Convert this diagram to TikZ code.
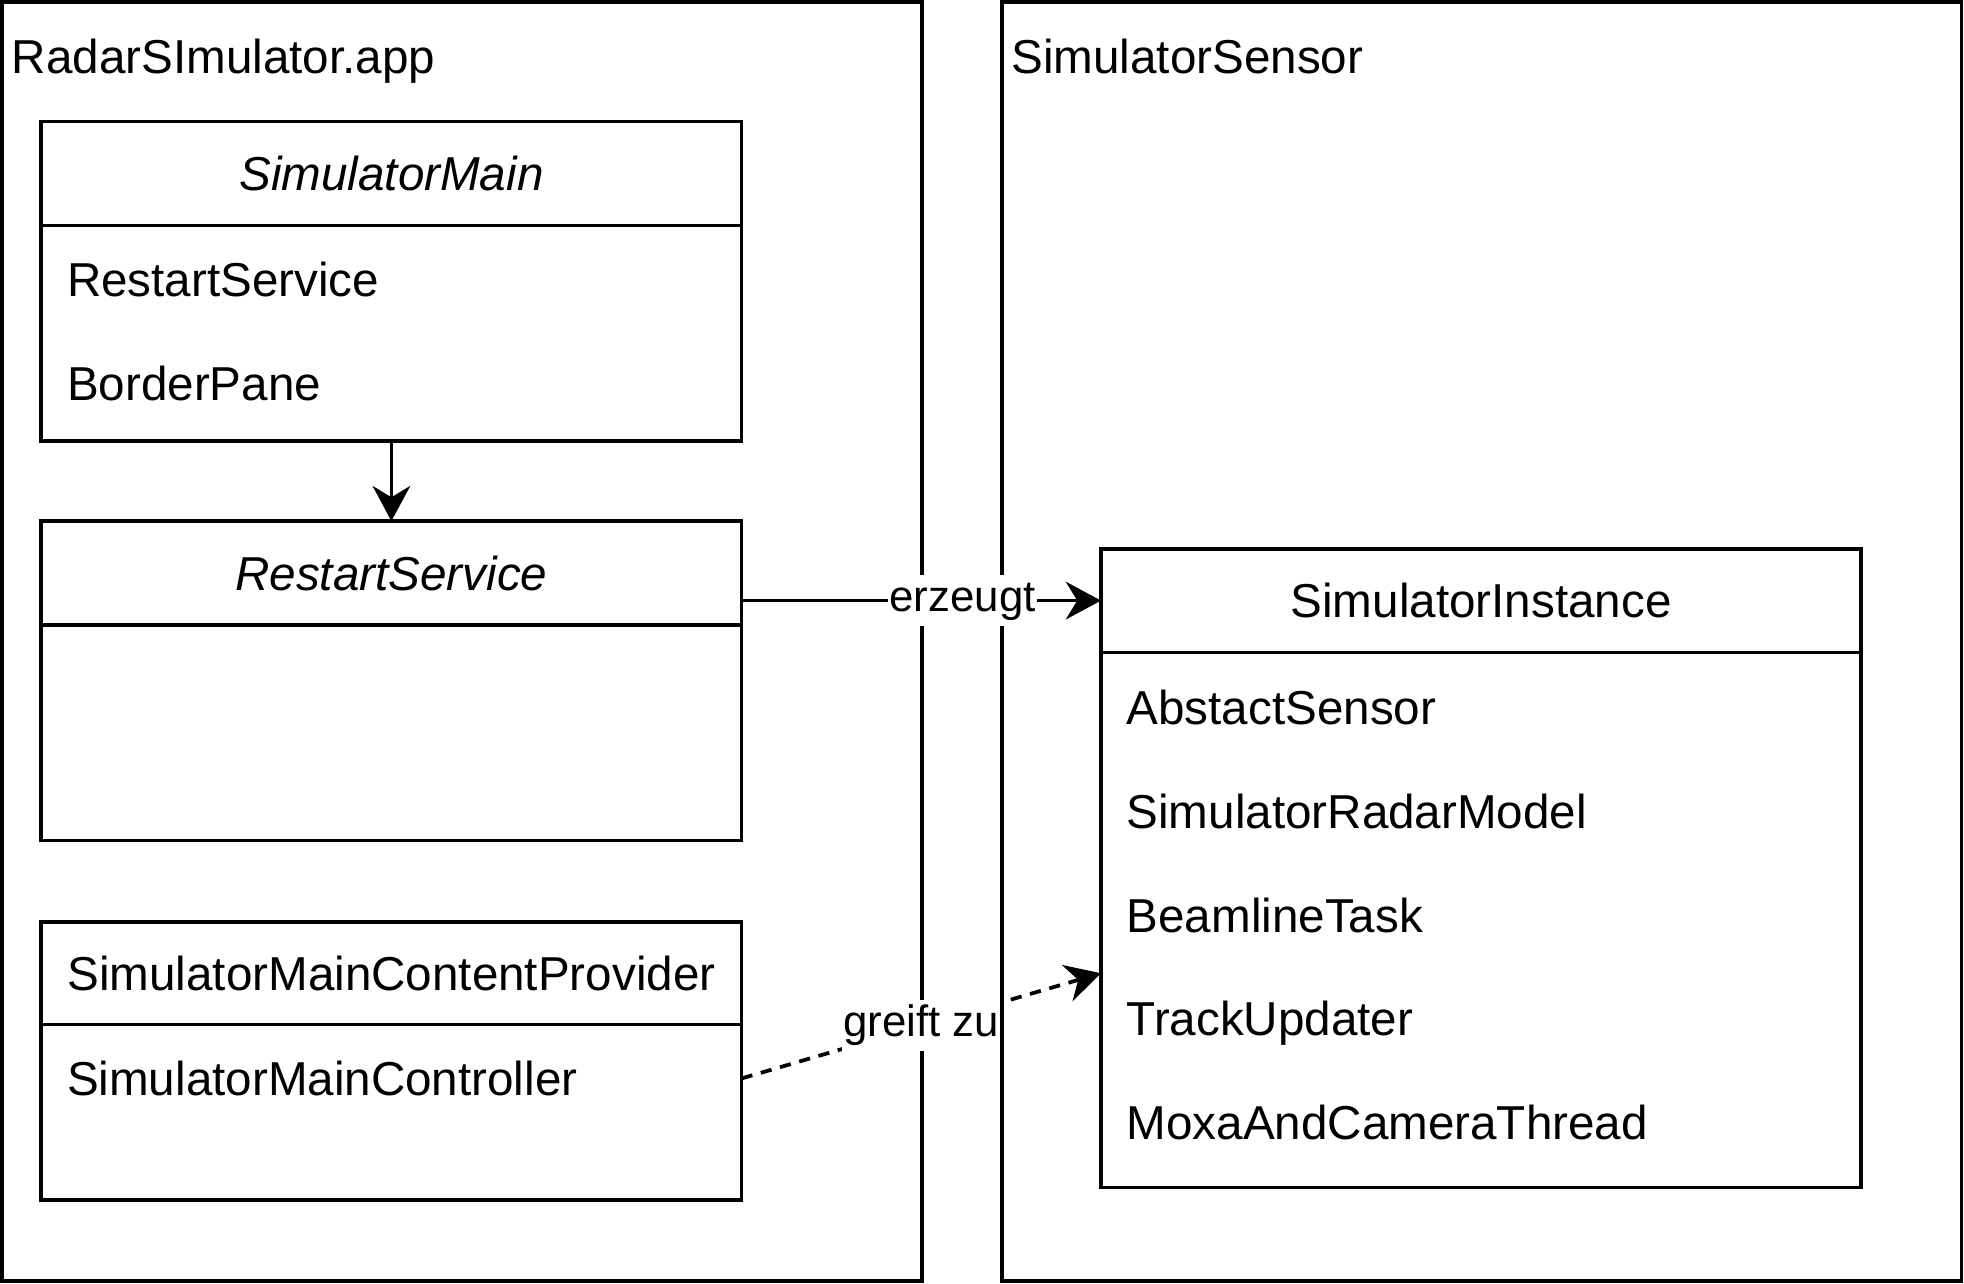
\documentclass[tikz,border=0pt]{standalone}
\usepackage{fontspec}
\setmainfont{Liberation Sans}
\usetikzlibrary{positioning,arrows.meta}

\newcommand{\umlfont}{\fontsize{38}{46}\selectfont}
\newcommand{\edgefont}{\fontsize{35}{42}\selectfont}

\begin{document}
\begin{tikzpicture}[
    x=1pt, y=-1pt, line width=3pt, font=\umlfont,
    pkg/.style={draw, anchor=north west, inner sep=0pt, outer sep=0pt},
    cls-head/.style={draw, minimum width=559pt, minimum height=83pt, inner sep=0pt, outer sep=0pt,
        text height=27.5pt, text depth=0pt},
    cls-body/.style={draw, minimum width=559pt, inner sep=0pt, outer sep=0pt},
    entry/.style={anchor=west, inner sep=0pt, text height=27.5pt, text depth=0pt},
    edge-lbl/.style={fill=white, inner xsep=1pt, inner ysep=4pt, text height=25pt, text depth=7.5pt, font=\edgefont},
    uml-arr/.style={-{Stealth[length=28pt, width=30pt, inset=9pt]}}
  ]
\useasboundingbox (0,0) rectangle (1568,1025);

% Packages
\node[pkg, minimum width=734.5pt, minimum height=1021.5pt] (app) at (1.5,1.5) {};
\node[entry] (app-name) at (8,45) {RadarSImulator.app};

\node[pkg, minimum width=766pt, minimum height=1021.5pt] (sensor) at (800,1.5) {};
\node[entry] (sensor-name) at (806,45) {SimulatorSensor};

% SimulatorMain class
\node[cls-head, font=\umlfont\itshape, anchor=north west] (main) at (33,97) {SimulatorMain};
\node[cls-body, minimum height=172pt, below=0pt of main] (main-body) {};
\node[entry] (main-a1) at (52,223) {RestartService};
\node[entry] (main-a2) at (52,306) {BorderPane};

% RestartService class
\node[cls-head, font=\umlfont\itshape, anchor=north west] (restart) at (33,416) {RestartService};
\node[cls-body, minimum height=172pt, below=0pt of restart] (restart-body) {};

% Content provider class
\node[cls-head, minimum height=82pt, anchor=north west] (provider) at (33,736) {SimulatorMainContentProvider};
\node[cls-body, minimum height=140pt, below=0pt of provider] (provider-body) {};
\node[entry] (provider-a1) at (52,861) {SimulatorMainController};

% SimulatorInstance class
\node[cls-head, minimum width=607pt, anchor=north west] (instance) at (879,438) {SimulatorInstance};
\node[cls-body, minimum width=607pt, minimum height=427pt, below=0pt of instance] (instance-body) {};
\foreach \attr [count=\i] in {AbstactSensor, SimulatorRadarModel, BeamlineTask, TrackUpdater, MoxaAndCameraThread}
    \node[entry] (instance-a\i) at (898, {482.2+82.75*\i}) {\attr};

% Relations
\draw[uml-arr] (main-body) -- (restart);
\draw[uml-arr] (restart.east |- instance.west) -- node[edge-lbl, pos=0.615] (creates) {erzeugt} (instance.west);
\draw[uml-arr, dash pattern=on 9pt off 7pt] (provider-body.east |- provider-a1)
    -- node[edge-lbl] (access) {greift zu} (instance-body.west |- provider);

\end{tikzpicture}
\end{document}
